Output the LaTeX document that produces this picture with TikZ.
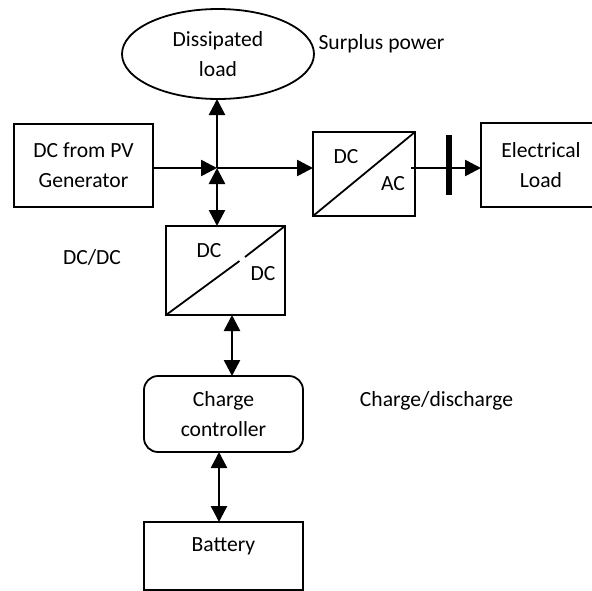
\documentclass[tikz,border=0pt]{standalone}
\usepackage{fontspec}
\setmainfont{Carlito}
\usetikzlibrary{arrows.meta,shapes.geometric,calc}
\tikzset{
  base/.style={draw=black,line width=1.8pt,inner sep=0pt,outer sep=0pt,align=center,font=\fontsize{21.6}{30}\selectfont},
  boxn/.style={base,rectangle},
  roundn/.style={base,rectangle,rounded corners=14pt},
  elln/.style={base,ellipse},
  txt/.style={inner sep=0pt,outer sep=0pt,align=center,font=\fontsize{21.6}{30}\selectfont},
  one/.style={line width=2.5pt,-{Triangle[length=16pt,width=16pt]}},
  two/.style={line width=2.5pt,{Triangle[length=16pt,width=16pt]}-{Triangle[length=16pt,width=16pt]}},
  thin line/.style={line width=1.8pt},
  barline/.style={line width=6pt}
}
\begin{document}
\begin{tikzpicture}[x=1pt,y=-1pt]
\useasboundingbox (0,0) rectangle (592,590);
\node[elln,minimum width=192pt,minimum height=90pt] (ell) at (218,54) {Dissipated\\load};
\node[boxn,minimum width=139pt,minimum height=83pt] (pv) at (83.5,165.5) {DC from PV\\Generator};
\node[boxn,minimum width=102pt,minimum height=84pt] (ac) at (364,174) {};
\node[boxn,minimum width=120pt,minimum height=84pt] (load) at (541,165) {Electrical\\Load};
\node[boxn,minimum width=119pt,minimum height=89pt] (dc) at (225.5,270.5) {};
\node[roundn,minimum width=159pt,minimum height=76pt] (cc) at (223.5,414) {Charge\\controller};
\node[boxn,minimum width=159pt,minimum height=68pt] (bat) at (223.5,556) {};
\node[txt] (tbat) at (223.5,546) {Battery};
\node[txt] (t1) at (381.5,44) {Surplus power};
\node[txt] (t2) at (92,257) {DC/DC};
\node[txt] (t3) at (436.5,401) {Charge/discharge};
\node[txt] (t4) at (209,251) {DC};
\node[txt] (t5) at (263,274) {DC};
\node[txt] (t6) at (346,157) {DC};
\node[txt] (t7) at (393,184) {AC};
\coordinate (j) at (217,168);
\coordinate (gapa) at (239.5,261);
\coordinate (gapb) at (245,257);
\coordinate (a1) at (232,0);
\coordinate (a2) at (219,0);
\coordinate (acout) at (411,0);
\coordinate (barT) at (449,135);
\coordinate (barB) at (449,195);
\draw[thin line] (ac.south west) -- (ac.north east);
\draw[thin line] (dc.south west) -- (gapa);
\draw[thin line] (gapb) -- (dc.north east);
\draw[barline] (barT) -- (barB);
\draw[one] (pv.east |- j) -- (j);
\draw[one] (j) -- (j |- ell.south);
\draw[one] (j) -- (ac.west |- j);
\draw[one] (acout |- j) -- (load.west |- j);
\draw[two] (j) -- (j |- dc.north);
\draw[two] (a1 |- dc.south) -- (a1 |- cc.north);
\draw[two] (a2 |- cc.south) -- (a2 |- bat.north);
\end{tikzpicture}
\end{document}
